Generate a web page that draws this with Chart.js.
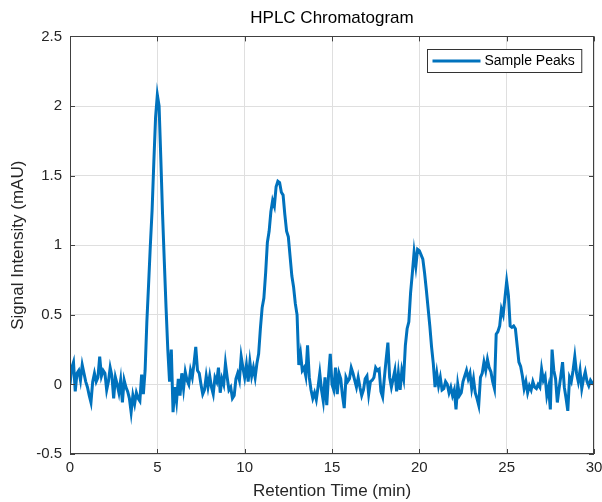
<!DOCTYPE html>
<html>
<head>
<meta charset="utf-8">
<title>HPLC Chromatogram</title>
<script src="https://cdn.jsdelivr.net/npm/chart.js@4.4.1/dist/chart.umd.min.js"></script>
<style>
    body { margin: 0; background: #fff; }
    canvas { display: block; }
</style>
</head>
<body>
<canvas id="chromChart" width="602" height="502"></canvas>
<script>
const sampleStep = 0.1;
const signal = [
    0.00, 0.12, 0.16, -0.05, 0.08, 0.10, 0.03, 0.14, 0.08, 0.02,
    -0.02, -0.08, -0.13, 0.02, 0.08, 0.02, 0.05, 0.20, 0.06, 0.10,
    0.08, -0.04, 0.02, 0.12, 0.06, -0.10, 0.05, 0.00, -0.06, 0.03,
    -0.13, 0.03, -0.02, -0.05, -0.10, -0.20, -0.08, -0.14, -0.06, -0.10,
    -0.12, 0.07, -0.07, 0.10, 0.45, 0.72, 1.00, 1.25, 1.60, 1.92,
    2.08, 2.00, 1.62, 1.22, 0.88, 0.55, 0.25, 0.02, 0.25, -0.20,
    -0.02, -0.12, 0.04, -0.08, 0.08, -0.03, 0.09, 0.03, 0.00, 0.10,
    0.05, 0.15, 0.27, 0.10, 0.08, 0.00, -0.07, -0.04, 0.06, -0.02,
    0.06, -0.02, -0.07, 0.05, 0.02, 0.12, -0.06, 0.04, 0.00, 0.15,
    0.05, -0.04, -0.02, -0.10, -0.08, 0.04, 0.08, 0.03, 0.20, 0.12,
    0.05, 0.14, 0.02, 0.16, 0.06, 0.12, 0.05, 0.15, 0.22, 0.40,
    0.55, 0.62, 0.80, 1.02, 1.10, 1.24, 1.32, 1.28, 1.42, 1.46,
    1.45, 1.38, 1.36, 1.22, 1.10, 1.06, 0.92, 0.78, 0.70, 0.58,
    0.50, 0.14, 0.22, 0.10, 0.12, 0.06, 0.28, 0.05, -0.04, -0.10,
    -0.06, -0.11, -0.02, 0.08, -0.04, -0.12, 0.05, -0.15, 0.06, 0.22,
    0.00, -0.04, 0.12, -0.07, 0.08, 0.04, -0.08, -0.17, 0.05, 0.02,
    0.04, 0.12, 0.08, 0.03, -0.02, 0.05, -0.02, -0.08, -0.04, 0.04,
    0.06, -0.07, 0.02, 0.03, 0.05, 0.12, 0.10, 0.11, -0.05, -0.09,
    0.05, 0.18, 0.30, 0.05, -0.02, 0.04, 0.10, -0.05, 0.08, -0.04,
    0.10, 0.04, 0.28, 0.40, 0.45, 0.66, 0.80, 0.95, 0.85, 0.97,
    0.96, 0.93, 0.90, 0.80, 0.68, 0.55, 0.42, 0.27, 0.15, -0.02,
    0.08, -0.01, 0.05, -0.04, -0.03, 0.02, 0.00, -0.06, -0.02, -0.08,
    -0.04, -0.18, 0.00, -0.08, -0.06, 0.02, 0.06, 0.10, 0.04, 0.08,
    -0.03, 0.04, -0.06, -0.10, -0.15, 0.05, 0.08, 0.16, 0.10, 0.18,
    0.12, 0.09, 0.02, -0.03, 0.36, 0.38, 0.42, 0.54, 0.50, 0.62,
    0.74, 0.64, 0.42, 0.41, 0.42, 0.40, 0.28, 0.16, 0.13, 0.06,
    -0.03, 0.02, -0.06, -0.01, -0.04, 0.02, -0.02, -0.03, 0.00, -0.02,
    0.11, 0.03, 0.06, -0.08, -0.02, -0.18, 0.25, 0.10, 0.04, -0.13,
    -0.03, 0.06, 0.16, -0.02, -0.10, -0.19, 0.05, 0.02, 0.10, 0.20,
    0.08, 0.02, 0.10, -0.03, 0.04, 0.09, 0.02, -0.01, 0.03, 0.01,
    0.00
];
const seriesLabel = 'Sample Peaks';
const xTicks = [0, 5, 10, 15, 20, 25, 30];
const yTicks = [-0.5, 0, 0.5, 1, 1.5, 2, 2.5];

const lineColor = '#0072BD';
const fontFamily = '"Liberation Sans", Arial, Helvetica, sans-serif';

// Puntos (tiempo, señal)
const points = signal.map((v, i) => ({ x: +(i * sampleStep).toFixed(1), y: v }));

// Marco, marcas interiores y leyenda al estilo MATLAB
const axesBoxPlugin = {
    id: 'axesBox',
    afterDatasetsDraw(chart) {
        const { ctx, chartArea: a, scales: { x, y } } = chart;
        ctx.save();
        ctx.strokeStyle = '#404040';
        ctx.lineWidth = 1;
        ctx.beginPath();
        x.ticks.forEach(t => {
            const px = Math.round(x.getPixelForValue(t.value)) + 0.5;
            ctx.moveTo(px, a.bottom); ctx.lineTo(px, a.bottom - 5);
            ctx.moveTo(px, a.top); ctx.lineTo(px, a.top + 5);
        });
        y.ticks.forEach(t => {
            const py = Math.round(y.getPixelForValue(t.value)) + 0.5;
            ctx.moveTo(a.left, py); ctx.lineTo(a.left + 5, py);
            ctx.moveTo(a.right, py); ctx.lineTo(a.right - 5, py);
        });
        ctx.stroke();
        ctx.strokeRect(Math.round(a.left) + 0.5, Math.round(a.top) + 0.5,
            Math.round(a.width) - 1, Math.round(a.height) - 1);

        // Leyenda
        const ds = chart.data.datasets[0];
        ctx.font = '14px ' + fontFamily;
        const textW = ctx.measureText(ds.label).width;
        const boxW = 5 + 48 + 4 + textW + 7;
        const boxH = 23;
        const boxL = Math.round(a.right - 13 - boxW) + 0.5;
        const boxT = Math.round(a.top + 13) + 0.5;
        ctx.fillStyle = '#fff';
        ctx.fillRect(boxL, boxT, boxW, boxH);
        ctx.strokeStyle = '#333';
        ctx.strokeRect(boxL, boxT, boxW, boxH);
        const midY = boxT + boxH / 2;
        ctx.strokeStyle = ds.borderColor;
        ctx.lineWidth = 3;
        ctx.beginPath();
        ctx.moveTo(boxL + 5, midY);
        ctx.lineTo(boxL + 53, midY);
        ctx.stroke();
        ctx.fillStyle = '#000';
        ctx.textBaseline = 'middle';
        ctx.textAlign = 'left';
        ctx.fillText(ds.label, boxL + 57, midY + 0.5);
        ctx.restore();
    }
};

const ctx = document.getElementById('chromChart').getContext('2d');
const chromChart = new Chart(ctx, {
    type: 'line',
    data: {
        datasets: [{
            label: seriesLabel,
            data: points,
            borderColor: lineColor,
            borderWidth: 3,
            pointRadius: 0,
            tension: 0,
            fill: false
        }]
    },
    options: {
        responsive: false,
        animation: false,
        layout: { padding: { left: 0, right: 8, top: 0, bottom: 0 } },
        plugins: {
            legend: { display: false },
            tooltip: { enabled: false },
            title: {
                display: true,
                text: 'HPLC Chromatogram',
                fullSize: false,
                color: '#000',
                font: { family: fontFamily, size: 17, weight: 'normal' },
                padding: { top: 8, bottom: 8 }
            }
        },
        scales: {
            x: {
                type: 'linear',
                min: 0,
                max: 30,
                afterBuildTicks: scale => { scale.ticks = xTicks.map(v => ({ value: v })); },
                afterFit: scale => {
                    scale.height = 48;
                    scale.paddingLeft = 0;
                    scale.paddingRight = 0;
                },
                grid: { color: '#dfdfdf', drawTicks: false },
                border: { display: false },
                ticks: {
                    color: '#262626',
                    padding: 5,
                    maxRotation: 0,
                    font: { family: fontFamily, size: 15 }
                },
                title: {
                    display: true,
                    text: 'Retention Time (min)',
                    color: '#262626',
                    font: { family: fontFamily, size: 17 },
                    padding: { top: 0, bottom: 0 }
                }
            },
            y: {
                min: -0.5,
                max: 2.5,
                afterBuildTicks: scale => { scale.ticks = yTicks.map(v => ({ value: v })); },
                afterFit: scale => {
                    scale.width = 70;
                    scale.paddingTop = 0;
                    scale.paddingBottom = 0;
                },
                grid: { color: '#dfdfdf', drawTicks: false },
                border: { display: false },
                ticks: {
                    color: '#262626',
                    padding: 8,
                    font: { family: fontFamily, size: 15 },
                    callback: v => String(v)
                },
                title: {
                    display: true,
                    text: 'Signal Intensity (mAU)',
                    color: '#262626',
                    font: { family: fontFamily, size: 17 },
                    padding: { top: 8, bottom: 0 }
                }
            }
        }
    },
    plugins: [axesBoxPlugin]
});
</script>
</body>
</html>
